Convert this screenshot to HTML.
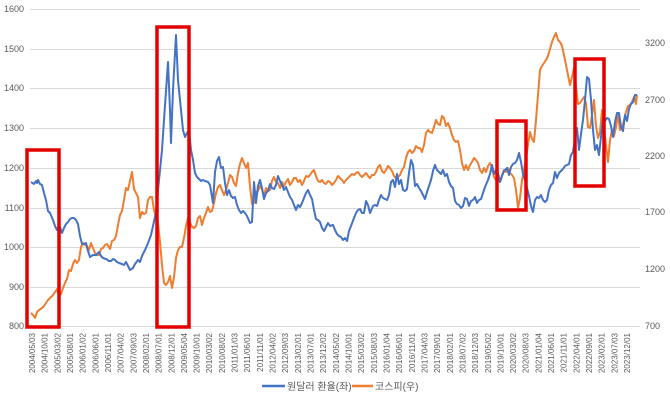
<!DOCTYPE html>
<html><head><meta charset="utf-8"><style>
body{margin:0;background:#fff;}
svg{display:block;font-family:"Liberation Sans","Noto Sans CJK KR",sans-serif;}
</style></head><body>
<svg width="670" height="401" viewBox="0 0 670 401" xmlns="http://www.w3.org/2000/svg">
<g stroke="#d9d9d9" stroke-width="1">
<line x1="30" x2="640" y1="9.5" y2="9.5"/><line x1="30" x2="640" y1="49.5" y2="49.5"/>
<line x1="30" x2="640" y1="88.5" y2="88.5"/><line x1="30" x2="640" y1="128.5" y2="128.5"/>
<line x1="30" x2="640" y1="168.5" y2="168.5"/><line x1="30" x2="640" y1="208.5" y2="208.5"/>
<line x1="30" x2="640" y1="247.5" y2="247.5"/><line x1="30" x2="640" y1="287.5" y2="287.5"/>
<line x1="30" x2="640" y1="326.5" y2="326.5"/>
</g>
<g font-size="9" fill="#595959" text-anchor="end">
<text x="24" y="12">1600</text><text x="24" y="52">1500</text><text x="24" y="91">1400</text>
<text x="24" y="131">1300</text><text x="24" y="171">1200</text><text x="24" y="211">1100</text>
<text x="24" y="250">1000</text><text x="24" y="290">900</text><text x="24" y="329">800</text>
</g>
<g font-size="9" fill="#595959">
<text x="645" y="46">3200</text><text x="645" y="103">2700</text><text x="645" y="159">2200</text>
<text x="645" y="215">1700</text><text x="645" y="272">1200</text><text x="645" y="329">700</text>
</g>
<polyline fill="none" stroke="#ED7D31" stroke-width="2" stroke-linejoin="round" points="31,313 33,315 35,318 37,312 39,310 42,308 44,306 46,303 48,300 50,298 53,295 55,292 57,289 59,296 61,294 63,288 65,283 67,279 69,270 71,271 73,264 75,260 77,263 79,260 81,247 83,243 85,245 87,246 89,250 91,243 93,248 95,253 97,255 99,255 101,249 103,248 105,245 107,244 110,249 112,241 114,240 116,236 118,225 120,215 122,211 124,200 126,188 128,190 130,181 132,172 134,189 136,193 138,197 140,218 142,212 144,214 146,213 148,200 150,197 152,197 154,210 156,218 158,223 160,242 162,265 164,283 166,285 168,282 170,276 172,288 174,277 176,258 178,250 180,247 182,247 184,238 186,226 188,218 190,222 192,227 194,228 196,226 198,218 200,216 202,225 204,218 206,213 208,207 210,212 212,211 214,203 216,193 218,187 220,185 222,190 224,195 226,190 228,183 230,175 232,177 234,183 236,186 238,173 240,164 242,158 244,163 246,168 248,163 250,186 252,204 254,203 256,192 258,191 260,186 262,189 264,196 266,188 268,191 270,190 272,181 274,177 276,182 278,183 280,188 282,182 284,186 286,182 288,179 290,185 292,182 294,178 296,178 298,182 300,180 302,185 304,181 306,176 308,177 310,175 312,172 314,170 316,176 318,181 320,182 322,180 324,183 326,184 328,181 330,182 332,185 334,183 336,180 338,176 340,178 342,180 344,183 346,180 348,178 350,176 352,174 354,175 356,173 358,172 360,175 362,177 364,175 366,173 368,176 370,178 372,175 374,175 376,172 378,167 380,165 382,171 384,173 386,170 388,166 390,168 392,171 394,176 396,178 398,177 400,175 402,170 404,167 406,158 408,152 410,150 412,153 414,151 416,146 418,148 420,148 422,152 424,145 426,133 428,130 430,132 432,133 434,127 436,120 438,124 440,125 442,116 444,118 446,126 448,123 450,128 452,135 454,140 456,142 458,141 460,150 462,163 464,170 466,165 468,170 470,165 472,162 474,158 476,160 478,163 480,170 482,173 484,168 486,172 488,166 490,163 492,168 494,177 496,180 498,176 500,182 502,175 504,170 506,172 508,168 510,173 512,175 514,178 516,190 518,208 520,198 522,180 524,170 526,158 528,145 530,132 532,139 534,142 536,120 538,95 540,70 542,66 544,63 546,60 548,56 550,49 552,42 554,37 556,33 558,40 560,42 562,46 564,55 566,65 568,75 570,85 572,77 574,68 576,87 578,104 580,103 582,100 584,97 586,103 588,127 590,128 592,115 594,100 596,126 598,138 600,132 602,110 604,128 606,145 608,162 610,140 612,130 614,136 616,127 618,115 620,130 622,128 624,120 626,112 628,106 630,105 632,102 634,97 636,104 637,95"/>
<polyline fill="none" stroke="#4472C4" stroke-width="2" stroke-linejoin="round" points="31,182 34,184 36,181 37,183 38,180 40,184 42,185 44,193 46,200 48,211 50,213 53,220 55,226 57,230 58,228 60,227 62,233 64,228 66,224 68,222 70,219 72,218 74,218 76,220 78,224 80,236 82,244 84,244 86,243 88,251 90,257 93,255 96,255 99,252 101,256 103,258 106,259 109,261 111,261 113,259 115,260 117,262 119,263 122,264 124,265 126,262 128,266 130,270 133,268 135,264 138,260 140,262 142,256 145,250 148,243 151,235 153,226 156,212 158,190 160,170 162,150 164,120 168,62 170,110 171,143 173,90 176,35 178,80 179,90 181,110 183,130 185,137 187,133 189,130 191,150 193,160 195,173 197,177 199,179 201,181 203,180 205,181 208,182 210,185 213,203 215,172 217,161 219,157 221,168 223,167 225,183 227,195 229,190 231,196 233,198 235,197 237,205 239,210 241,213 243,211 245,213 247,216 250,223 252,222 254,182 256,203 258,186 260,180 262,188 264,199 266,193 268,191 270,184 272,188 274,189 276,185 278,176 280,181 282,185 284,190 286,187 288,192 290,197 292,200 294,205 296,210 298,205 300,207 302,203 304,198 306,193 308,190 310,195 312,199 314,210 316,219 318,220 320,222 322,228 324,231 326,227 328,223 330,226 333,225 335,230 337,234 339,236 341,237 343,240 345,238 347,241 349,231 351,226 354,218 356,213 358,210 360,209 362,213 364,213 366,201 368,205 370,213 373,206 375,205 377,206 379,200 381,195 383,198 385,199 387,200 389,195 391,182 393,180 395,187 397,174 399,184 401,180 403,190 405,191 407,189 409,173 411,160 413,165 415,186 417,184 419,188 421,191 423,195 425,199 427,192 429,186 431,180 433,171 435,165 437,170 439,172 441,174 443,170 445,176 447,174 449,182 451,186 453,188 455,201 457,204 459,205 461,208 463,206 465,198 467,199 469,206 471,201 473,200 475,197 477,203 479,200 481,199 483,193 485,187 488,180 490,174 492,165 494,174 496,170 498,173 500,182 502,176 504,171 507,168 509,175 511,167 513,164 515,163 517,160 519,153 521,162 523,174 525,180 527,188 529,196 531,206 533,212 535,200 537,197 539,198 541,195 543,200 545,202 547,200 549,190 551,185 553,183 555,172 557,178 559,173 561,171 563,169 565,166 567,165 569,164 571,155 573,152 575,138 577,128 579,150 581,134 583,120 585,100 587,77 589,79 591,100 593,130 595,150 597,145 599,155 601,137 603,118 605,121 607,118 609,119 611,126 613,137 615,122 617,113 619,113 621,127 623,131 625,115 627,121 629,109 631,104 633,102 635,95 637,95"/>
<g fill="none" stroke="#E50000" stroke-width="3.5">
<rect x="27" y="150" width="32" height="177"/>
<rect x="157" y="27" width="32" height="300"/>
<rect x="497" y="121" width="29" height="89"/>
<rect x="575" y="59" width="29" height="127"/>
</g>
<g font-size="8" fill="#595959" text-anchor="end">
<text transform="translate(35.0,333) rotate(-90)">2004/05/03</text>
<text transform="translate(47.7,333) rotate(-90)">2004/10/01</text>
<text transform="translate(60.3,333) rotate(-90)">2005/03/02</text>
<text transform="translate(73.0,333) rotate(-90)">2005/08/01</text>
<text transform="translate(85.6,333) rotate(-90)">2006/01/02</text>
<text transform="translate(98.3,333) rotate(-90)">2006/06/01</text>
<text transform="translate(111.0,333) rotate(-90)">2006/11/01</text>
<text transform="translate(123.6,333) rotate(-90)">2007/04/02</text>
<text transform="translate(136.3,333) rotate(-90)">2007/09/03</text>
<text transform="translate(148.9,333) rotate(-90)">2008/02/01</text>
<text transform="translate(161.6,333) rotate(-90)">2008/07/01</text>
<text transform="translate(174.3,333) rotate(-90)">2008/12/01</text>
<text transform="translate(186.9,333) rotate(-90)">2009/05/04</text>
<text transform="translate(199.6,333) rotate(-90)">2009/10/01</text>
<text transform="translate(212.2,333) rotate(-90)">2010/03/02</text>
<text transform="translate(224.9,333) rotate(-90)">2010/08/02</text>
<text transform="translate(237.6,333) rotate(-90)">2011/01/03</text>
<text transform="translate(250.2,333) rotate(-90)">2011/06/01</text>
<text transform="translate(262.9,333) rotate(-90)">2011/11/01</text>
<text transform="translate(275.5,333) rotate(-90)">2012/04/02</text>
<text transform="translate(288.2,333) rotate(-90)">2012/09/03</text>
<text transform="translate(300.9,333) rotate(-90)">2013/02/01</text>
<text transform="translate(313.5,333) rotate(-90)">2013/07/01</text>
<text transform="translate(326.2,333) rotate(-90)">2013/12/02</text>
<text transform="translate(338.8,333) rotate(-90)">2014/05/02</text>
<text transform="translate(351.5,333) rotate(-90)">2014/10/01</text>
<text transform="translate(364.2,333) rotate(-90)">2015/03/02</text>
<text transform="translate(376.8,333) rotate(-90)">2015/08/03</text>
<text transform="translate(389.5,333) rotate(-90)">2016/01/04</text>
<text transform="translate(402.1,333) rotate(-90)">2016/06/01</text>
<text transform="translate(414.8,333) rotate(-90)">2016/11/01</text>
<text transform="translate(427.5,333) rotate(-90)">2017/04/03</text>
<text transform="translate(440.1,333) rotate(-90)">2017/09/01</text>
<text transform="translate(452.8,333) rotate(-90)">2018/02/01</text>
<text transform="translate(465.4,333) rotate(-90)">2018/07/02</text>
<text transform="translate(478.1,333) rotate(-90)">2018/12/03</text>
<text transform="translate(490.8,333) rotate(-90)">2019/05/02</text>
<text transform="translate(503.4,333) rotate(-90)">2019/10/01</text>
<text transform="translate(516.1,333) rotate(-90)">2020/03/02</text>
<text transform="translate(528.7,333) rotate(-90)">2020/08/03</text>
<text transform="translate(541.4,333) rotate(-90)">2021/01/04</text>
<text transform="translate(554.1,333) rotate(-90)">2021/06/01</text>
<text transform="translate(566.7,333) rotate(-90)">2021/11/01</text>
<text transform="translate(579.4,333) rotate(-90)">2022/04/01</text>
<text transform="translate(592.0,333) rotate(-90)">2022/09/01</text>
<text transform="translate(604.7,333) rotate(-90)">2023/02/01</text>
<text transform="translate(617.4,333) rotate(-90)">2023/07/03</text>
<text transform="translate(630.0,333) rotate(-90)">2023/12/01</text>
</g>
<line x1="262" x2="285" y1="386" y2="386" stroke="#4472C4" stroke-width="2.5"/>
<text x="287" y="390" font-size="10" fill="#595959">원달러 환율(좌)</text>
<line x1="352" x2="373" y1="386" y2="386" stroke="#ED7D31" stroke-width="2.5"/>
<text x="375" y="390" font-size="10" fill="#595959">코스피(우)</text>
</svg>
</body></html>
